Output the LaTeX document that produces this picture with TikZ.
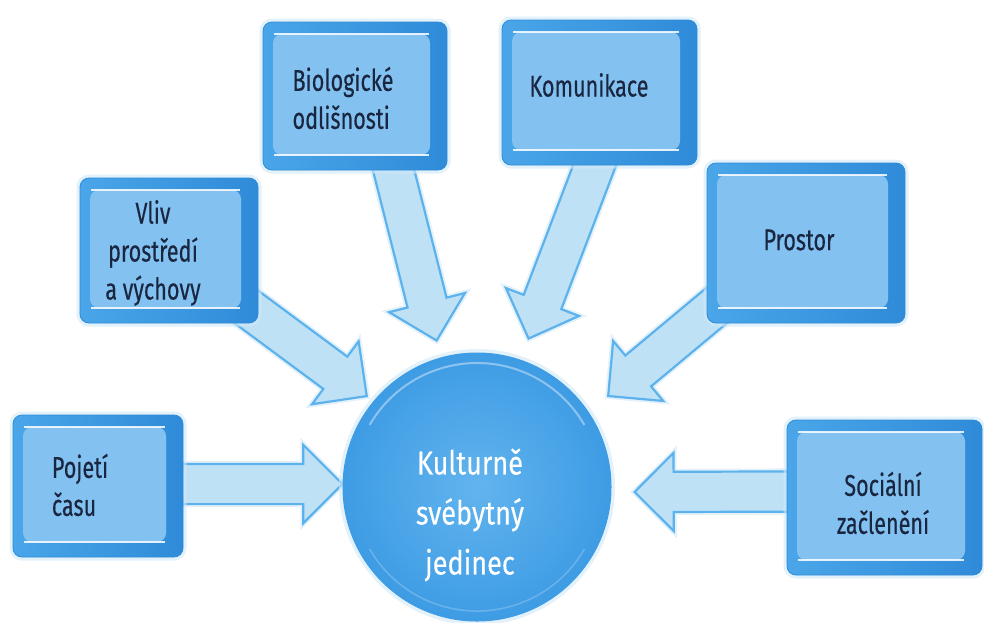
\documentclass[tikz,border=0pt]{standalone}
\usepackage{fontspec}
\setmainfont[FakeStretch=0.82,FakeBold=0.25]{Fira Sans}
\newfontfamily\boxfont[FakeStretch=0.72,FakeBold=0.3]{Fira Sans}
\usetikzlibrary{shapes.arrows,calc,backgrounds}
\definecolor{tileout}{HTML}{4AA6E8}
\definecolor{tiledark}{HTML}{2F8BD8}
\definecolor{tilein}{HTML}{82C1F0}
\definecolor{glowc}{HTML}{CFE8F8}
\definecolor{arrfill}{HTML}{BFE1F6}
\definecolor{arrline}{HTML}{5CB2EC}
\definecolor{navy}{HTML}{1A2640}
\definecolor{discin}{HTML}{62B4EE}
\definecolor{discout}{HTML}{3E9CE4}
\newcommand\fatto[2]{\path let \p1=($(#2)-(#1)$), \n1={atan2(\y1,\x1)}, \n2={veclen(\x1,\y1)} in node[fatarrow, rotate=\n1, minimum height=\n2] at (#2) {};}
\begin{document}
\begin{tikzpicture}[x=1pt,y=-1pt,
 tilebox/.style={rectangle, rounded corners=9pt, left color=tileout, right color=tiledark, draw=tiledark, line width=.8pt,
   preaction={draw=glowc, line width=7pt, opacity=.6},
   path picture={
     \fill[tilein] ([shift={(10pt,-12pt)}]path picture bounding box.north west) rectangle ([shift={(-17pt,15pt)}]path picture bounding box.south east);
     \draw[white, line width=2pt, opacity=.85] ([shift={(11pt,-12pt)}]path picture bounding box.north west) -- ([shift={(-18pt,-12pt)}]path picture bounding box.north east);
     \draw[white, line width=2pt, opacity=.85] ([shift={(11pt,15pt)}]path picture bounding box.south west) -- ([shift={(-18pt,15pt)}]path picture bounding box.south east);
   }},
 tiletext/.style={text=navy, align=center, font=\boxfont\fontsize{30}{38}\selectfont},
 fatarrow/.style={single arrow, fill=arrfill, draw=arrline, line width=2.2pt, inner xsep=0pt, inner ysep=19pt, single arrow head extend=19pt, anchor=tip, preaction={draw=glowc, line width=6pt, opacity=.6}},
]
\useasboundingbox (0,0) rectangle (984,622);

% boxes
\node[tilebox, minimum width=170pt, minimum height=142pt] (pojeti) at (98,486) {};
\node[tiletext, align=left] (pojeti-t) at (80,485) {Pojetí\\času};
\node[tilebox, minimum width=178pt, minimum height=145pt] (vliv) at (169,250.5) {};
\node[tiletext] (vliv-t) at (153,253) {Vliv\\prostředí\\a výchovy};
\node[tilebox, minimum width=184pt, minimum height=148pt] (bio) at (355,96) {};
\node[tiletext, align=left] (bio-t) at (343,98) {Biologické\\odlišnosti};
\node[tilebox, minimum width=195pt, minimum height=145pt] (komu) at (599.5,92.5) {};
\node[tiletext] (komu-t) at (589,85) {Komunikace};
\node[tilebox, minimum width=198pt, minimum height=160pt] (prostor) at (806,243) {};
\node[tiletext] (prostor-t) at (799,240) {Prostor};
\node[tilebox, minimum width=195pt, minimum height=155pt] (social) at (884.5,497.5) {};
\node[tiletext] (social-t) at (883,503) {Sociální\\začlenění};

% centre disc
\node[circle, minimum size=268pt, inner color=discin, outer color=discout, draw=discout, line width=1pt,
  preaction={draw=glowc, line width=8pt, opacity=.6}] (c) at (477,487) {};
\draw[white, opacity=.4, line width=2pt] ($(c.center)+(150:124pt)$) arc[start angle=150, end angle=30, radius=124pt];
\draw[white, opacity=.22, line width=1.5pt] ($(c.center)+(-30:124pt)$) arc[start angle=-30, end angle=-150, radius=124pt];
\node[text=white, align=center, font=\fontsize{33}{50}\selectfont] (c-t) at (470,515) {Kulturně\\svébytný\\jedinec};

% arrows (behind)
\coordinate (a1s) at ($(pojeti.center)+(72,-2)$);  \coordinate (a1t) at (344,484);
\coordinate (a2s) at ($(vliv.center)+(62,45)$);    \coordinate (a2t) at (368,397);
\coordinate (a3s) at ($(bio.center)+(33,52)$);     \coordinate (a3t) at (437,342);
\coordinate (a4s) at ($(komu.center)+(0,60)$);     \coordinate (a4t) at (528,340);
\coordinate (a5s) at ($(prostor.center)+(-84,58)$);\coordinate (a5t) at (607,397);
\coordinate (a6s) at ($(social.center)+(-84,-6)$); \coordinate (a6t) at (633,492);
\begin{scope}[on background layer]
\fill[white] (0,0) rectangle (984,622);
\fatto{a1s}{a1t}
\fatto{a2s}{a2t}
\fatto{a3s}{a3t}
\fatto{a4s}{a4t}
\fatto{a5s}{a5t}
\fatto{a6s}{a6t}
\end{scope}
\end{tikzpicture}
\end{document}
